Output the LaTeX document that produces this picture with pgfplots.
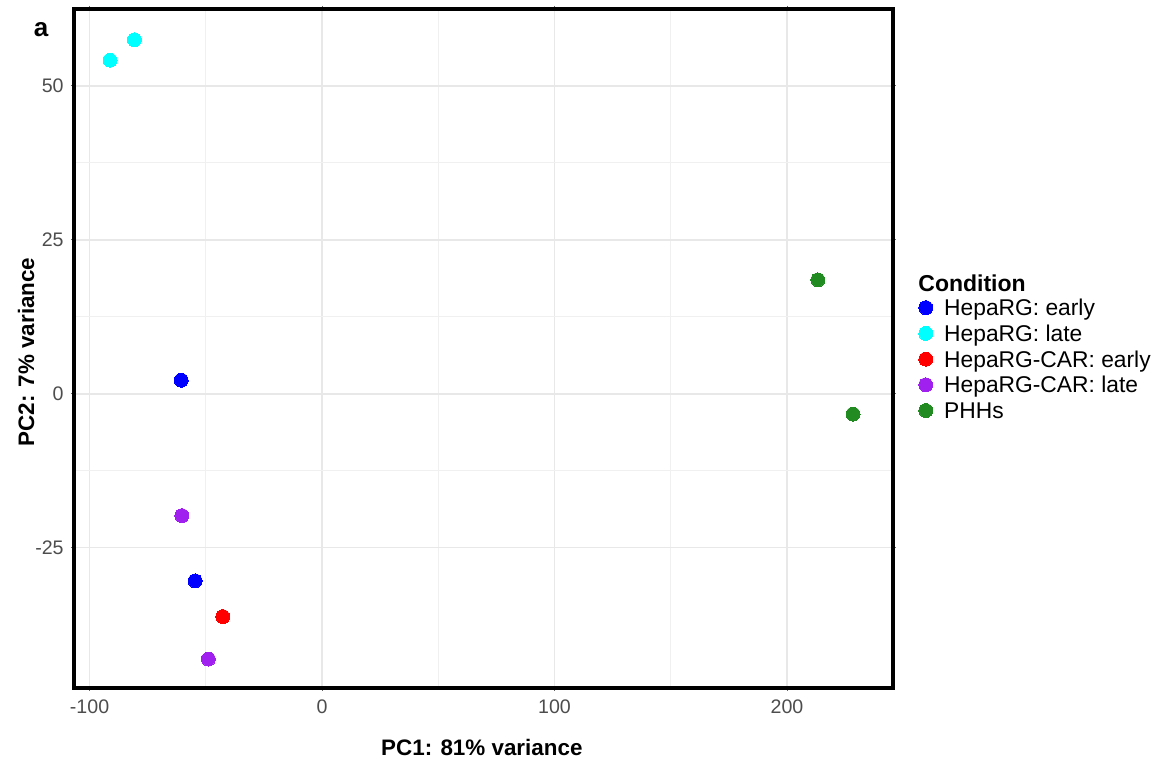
\documentclass[border=0pt]{standalone}
\usepackage{pgfplots}
\pgfplotsset{compat=1.18}
\usepackage{fontspec}
\setmainfont{Liberation Sans}
\definecolor{cblue}{RGB}{0,0,255}
\definecolor{ccyan}{RGB}{0,255,255}
\definecolor{cred}{RGB}{255,0,0}
\definecolor{cpurple}{RGB}{160,32,240}
\definecolor{cgreen}{RGB}{34,139,34}
\definecolor{tickgray}{RGB}{77,77,77}
\begin{document}
\begin{tikzpicture}
\path[use as bounding box] (0,0) rectangle (586pt,382pt);
\begin{axis}[
  at={(37pt,38pt)}, anchor=south west,
  scale only axis, width=409.5pt, height=339.5pt,
  xmin=-106.7, xmax=245.6, ymin=-47.8, ymax=62.5,
  xtick={-100,0,100,200}, ytick={-25,0,25,50},
  minor x tick num=1, minor y tick num=1,
  grid=both,
  major grid style={color=black!9, line width=0.8pt},
  minor grid style={color=black!6, line width=0.6pt},
  axis line style={line width=2pt, black},
  tick align=outside, major tick length=1.5pt, minor tick length=0pt,
  tick style={color=black!60, line width=0.5pt},
  /pgf/number format/assume math mode=true,
  ticklabel style={font=\fontsize{9.8}{11}\selectfont, text=tickgray},
  xticklabel style={inner sep=0pt, anchor=north, yshift=-4pt},
  yticklabel style={inner sep=0pt, anchor=east, xshift=-3.5pt},
  xlabel={\textbf{PC1: 81\% variance}},
  ylabel={\textbf{PC2: 7\% variance}},
  label style={font=\fontsize{11.2}{13}\selectfont},
  xlabel style={at={(axis description cs:0.498,-0.0869)}, anchor=center},
  ylabel style={at={(axis description cs:-0.0586,0.4948)}, anchor=center, rotate=0},
  legend style={at={(axis description cs:1.0305,0.5755)}, anchor=north west,
    draw=none, fill=none, inner sep=0pt, row sep=0pt,
    font=\fontsize{11.4}{13}\selectfont,
    nodes={inner sep=0pt, text height=9pt, text depth=3.85pt},
    /tikz/every even column/.append style={column sep=0pt}},
  legend cell align=left,
  legend image code/.code={\draw[#1] plot coordinates {(3.5pt,1.4pt)}; \path (0pt,0pt) (12.5pt,0pt);},
]
\addplot[only marks, mark=*, mark size=3.5pt, mark options={draw=cblue, fill=cblue, line width=0pt}] coordinates {(-60.6,2.2) (-54.6,-30.4)};
\addlegendentry{HepaRG: early}
\addplot[only marks, mark=*, mark size=3.5pt, mark options={draw=ccyan, fill=ccyan, line width=0pt}] coordinates {(-91.2,54.2) (-80.7,57.5)};
\addlegendentry{HepaRG: late}
\addplot[only marks, mark=*, mark size=3.5pt, mark options={draw=cred, fill=cred, line width=0pt}] coordinates {(-42.7,-36.2)};
\addlegendentry{HepaRG-CAR: early}
\addplot[only marks, mark=*, mark size=3.5pt, mark options={draw=cpurple, fill=cpurple, line width=0pt}] coordinates {(-60.3,-19.8) (-48.9,-43.1)};
\addlegendentry{HepaRG-CAR: late}
\addplot[only marks, mark=*, mark size=3.5pt, mark options={draw=cgreen, fill=cgreen, line width=0pt}] coordinates {(213.3,18.5) (228.4,-3.3)};
\addlegendentry{PHHs}
\end{axis}
\node[anchor=west, inner sep=0pt, font=\fontsize{11.5}{13}\selectfont\bfseries] at (459pt,240.5pt) {Condition};
\node[anchor=center, inner sep=0pt, font=\fontsize{13}{15}\selectfont\bfseries] at (20.5pt,367pt) {a};
\end{tikzpicture}
\end{document}
